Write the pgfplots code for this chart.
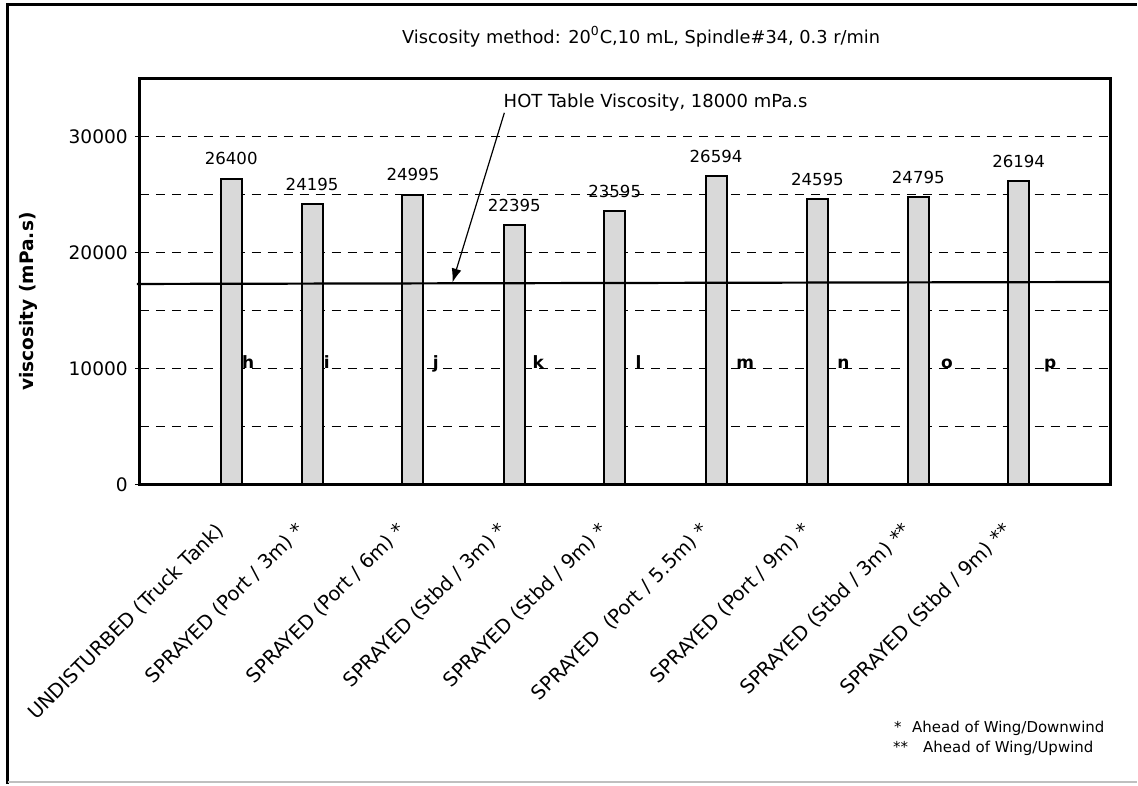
\documentclass[border=0pt]{standalone}
\usepackage{pgfplots}
\pgfplotsset{compat=1.18}
\usepackage{pgfplotstable}
\usepackage{fontspec}
\setmainfont{DejaVu Sans}
\usetikzlibrary{arrows.meta}

\pgfplotstableread{
x y
231.5 26400
312.5 24195
413.5 24995
515 22395
615.5 23595
717 26594
818.5 24595
919.5 24795
1020 26194
}\bars

\pgfplotstableread{
x y lab
242 10000 h
324 10000 i
433 10000 j
533 10000 k
636 10000 l
737 10000 m
838 10000 n
942 10000 o
1045 10000 p
}\letters

\begin{document}
\begin{tikzpicture}
% picture frame (1 px = 0.5 pt)
\path (0,0) rectangle (569pt,-392.5pt);
\draw[line width=1.5pt] (4pt,-392.5pt) -- (4pt,-2.5pt) -- (569pt,-2.5pt);
\draw[line width=0.6pt, black!25] (4pt,-391.5pt) -- (569pt,-391.5pt);

\begin{axis}[
  at={(70pt,-242.5pt)}, anchor=south west,
  scale only axis, width=486pt, height=203pt,
  xmin=140, xmax=1112, ymin=0, ymax=35000,
  clip=false,
  axis line style={line width=1.5pt},
  xtick={231.5,312.5,413.5,515,615.5,717,818.5,919.5,1020},
  xticklabels={UNDISTURBED (Truck Tank),SPRAYED (Port / 3m) *,SPRAYED (Port / 6m) *,SPRAYED (Stbd / 3m) *,SPRAYED (Stbd / 9m) *,SPRAYED\ \ (Port / 5.5m) *,SPRAYED (Port / 9m) *,SPRAYED (Stbd / 3m) **,SPRAYED (Stbd / 9m) **},
  x tick style={draw=none},
  xticklabel style={xshift=-5.25pt, yshift=-19pt, rotate=45, anchor=east, font=\fontsize{9.8}{11}\selectfont, inner sep=0pt},
  ytick={0,10000,20000,30000},
  minor ytick={5000,15000,25000},
  ytick pos=left, tick align=outside,
  major tick length=2.5pt, minor tick length=0pt,
  y tick style={black, line width=0.6pt},
  ymajorgrids, yminorgrids,
  major grid style={black, line width=0.5pt, dash pattern=on 4.5pt off 3.5pt},
  minor grid style={black, line width=0.5pt, dash pattern=on 4.5pt off 3.5pt},
  scaled y ticks=false,
  yticklabel style={font=\fontsize{9.3}{11}\selectfont, /pgf/number format/1000 sep={}, /pgf/number format/assume math mode=true},
  /pgf/number format/1000 sep={},
  /pgf/number format/assume math mode=true,
]
\addplot[ybar, bar width=21, fill=black!15, draw=black, line width=1pt,
  nodes near coords, point meta=y,
  every node near coord/.append style={font=\fontsize{8.3}{10}\selectfont, yshift=3pt, /pgf/number format/fixed, /pgf/number format/precision=0, /pgf/number format/1000 sep={}}]
  table[x=x,y=y] {\bars};
\addplot[draw=none, mark=none, nodes near coords, point meta=explicit symbolic,
  every node near coord/.style={anchor=base west, inner sep=0pt, font=\bfseries\fontsize{8.5}{10}\selectfont}]
  table[x=x,y=y,meta=lab] {\letters};
\addplot[black, line width=1.1pt] coordinates {(137,17300) (1112,17470)};
\draw[line width=0.6pt, -{Latex[length=7pt,width=5pt]}] (axis cs:505,32070) -- (axis cs:453,17420);
\node[anchor=base west, inner sep=0pt, font=\fontsize{9}{11}\selectfont] at (axis cs:504,32500) {HOT Table Viscosity, 18000 mPa.s};
\end{axis}

\node[anchor=base, inner sep=0pt, font=\fontsize{8.9}{10}\selectfont] at (321pt,-21.75pt) {Viscosity method: 20\textsuperscript{0}C,10 mL, Spindle\#34, 0.3 r/min};
\node[rotate=90, inner sep=0pt, font=\bfseries\fontsize{9.3}{11}\selectfont] at (14pt,-151pt) {viscosity (mPa.s)};
\node[anchor=base west, inner sep=0pt, font=\fontsize{7.5}{9}\selectfont] at (447.5pt,-366.5pt) {*};
\node[anchor=base west, inner sep=0pt, font=\fontsize{7.5}{9}\selectfont] at (456.5pt,-366.5pt) {Ahead of Wing/Downwind};
\node[anchor=base west, inner sep=0pt, font=\fontsize{7.5}{9}\selectfont] at (447pt,-376.5pt) {**};
\node[anchor=base west, inner sep=0pt, font=\fontsize{7.5}{9}\selectfont] at (462pt,-376.5pt) {Ahead of Wing/Upwind};
\end{tikzpicture}
\end{document}
